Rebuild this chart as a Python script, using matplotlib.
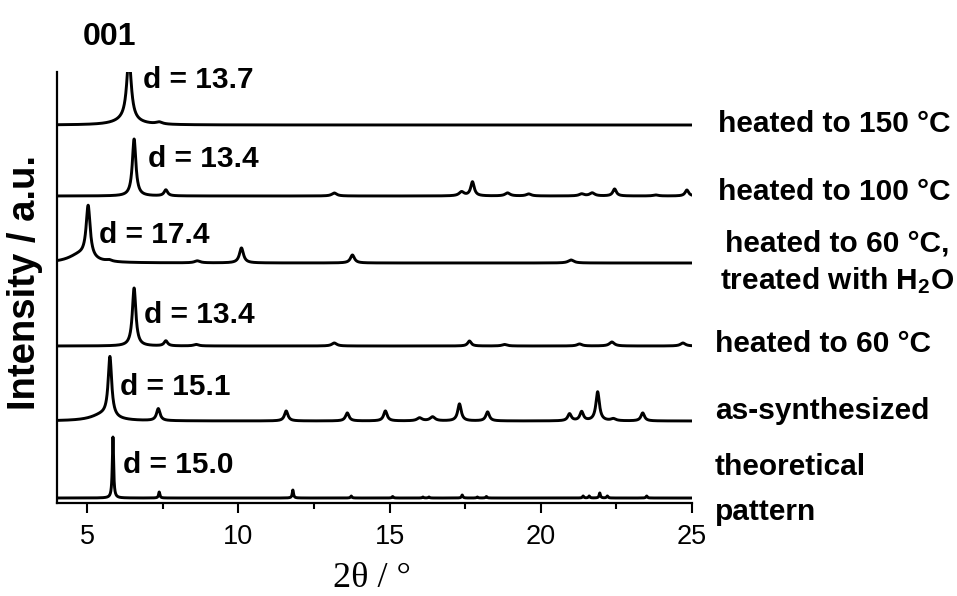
import numpy as np
import matplotlib
matplotlib.use('Agg')
import matplotlib.pyplot as plt

plt.rcParams['font.family'] = ['Liberation Sans', 'DejaVu Sans']
plt.rcParams['mathtext.default'] = 'regular'

# Pattern labels (bottom to top), one list entry per text line
labels = [['theoretical', 'pattern'], ['as-synthesized'], ['heated to 60 °C'],
          ['heated to 60 °C,', 'treated with H$_2$O'], ['heated to 100 °C'],
          ['heated to 150 °C']]
# vertical offsets of each baseline
offsets = [5, 82, 157, 240, 307, 378]
d_labels = ['d = 15.0', 'd = 15.1', 'd = 13.4', 'd = 17.4', 'd = 13.4', 'd = 13.7']

# Peak positions (2theta) and heights
theo_pos = [5.85, 7.38, 11.8, 13.73, 15.1, 16.1, 16.3, 17.4, 17.9, 18.2,
            21.4, 21.6, 21.95, 22.2, 23.5]
theo_h = [61, 6, 8, 2, 1.5, 1, 1, 3, 1, 1.5, 2, 2, 5, 2, 2]

synth_pos = [5.5, 5.75, 7.35, 11.58, 13.6, 14.86, 15.99, 16.42, 17.31, 18.24,
             20.95, 21.35, 21.88, 22.4, 23.37]
synth_h = [6, 60, 12, 10, 8, 10, 3, 4, 17, 9, 7, 9, 29, 2, 8]

h60_pos = [6.55, 7.6, 8.6, 13.17, 17.64, 18.8, 21.28, 22.35, 24.7]
h60_h = [58, 5, 1.5, 3, 5, 1.5, 2, 4, 3]

water_pos = [4.75, 5.03, 5.72, 8.64, 10.1, 13.77, 21.0]
water_h = [8, 52, 1.5, 2, 15, 8, 3]

h100_pos = [6.55, 7.6, 13.17, 17.38, 17.74, 18.9, 19.6, 21.35, 21.7, 22.44,
            23.8, 24.83]
h100_h = [57, 6, 3, 4, 14, 3, 2, 2, 3, 7, 1, 6]

h150_pos = [6.3, 6.38, 7.38]
h150_h = [5, 63, 2]

peak_sets = [(theo_pos, theo_h), (synth_pos, synth_h), (h60_pos, h60_h),
             (water_pos, water_h), (h100_pos, h100_h), (h150_pos, h150_h)]
widths = [0.05, 0.14, 0.14, 0.16, 0.14, 0.18]


def pattern(x, pos, heights, w):
    # sum of Lorentzian profiles; small and shoulder peaks a bit broader
    y = np.zeros_like(x)
    for c, h in zip(pos, heights):
        ww = w if h > 4 or w < 0.1 else w * 1.4
        if c in (5.5, 4.75, 6.3):
            ww = 0.9
        y += h / (1 + ((x - c) / (ww / 2)) ** 2)
    return y


fig = plt.figure(figsize=(9.57, 5.96), dpi=100)
W, H = 957, 596
ax = fig.add_axes([57 / W, 93 / H, (692 - 57) / W, (503 - 72) / H])

x = np.linspace(4, 25, 4200)
for (pos, hts), off, w in zip(peak_sets, offsets, widths):
    ax.plot(x, off + pattern(x, pos, hts, w), color='black', lw=2.1)

ax.set_xlim(4, 25)
ax.set_ylim(0, 431)
ax.set_xticks([5, 10, 15, 20, 25])
ax.set_xticks([7.5, 12.5, 17.5, 22.5], minor=True)
ax.set_yticks([])
ax.tick_params(axis='x', which='major', direction='out', length=7, width=1.5,
               labelsize=19.5, pad=8)
ax.tick_params(axis='x', which='minor', direction='out', length=4.5, width=1.5)
for s in ['top', 'right']:
    ax.spines[s].set_visible(False)
for s in ['left', 'bottom']:
    ax.spines[s].set_linewidth(1.6)

# d-spacing labels next to the 001 reflections
d_xy = [(6.18, 30), (6.08, 108), (6.88, 180), (5.39, 260), (7.01, 336), (6.84, 415)]
for txt, (tx, ty) in zip(d_labels, d_xy):
    ax.text(tx, ty, txt, fontsize=21.5, fontweight='bold', va='baseline')
ax.text(4.86, 458, '001', fontsize=23, fontweight='bold', va='baseline',
        clip_on=False)

# pattern names at the right (pixel x, baseline of each line)
name_x = [715, 715, 715, 837, 718, 718]
name_base = [[475, 520], [419], [352], [252, 289], [200], [132]]
for i, (lines, px, bases) in enumerate(zip(labels, name_x, name_base)):
    for txt, py in zip(lines, bases):
        fig.text(px / W, 1 - py / H, txt, fontsize=21.5, fontweight='bold',
                 ha='center' if i == 3 else 'left', va='baseline')

fig.text(25 / W, 1 - 282 / H, 'Intensity / a.u.', fontsize=27.5,
         fontweight='bold', rotation=90, ha='center', va='center')
fig.text(372 / W, 1 - 587 / H, '2θ / °', fontsize=26, family='Liberation Serif',
         ha='center', va='baseline')

fig.savefig('out.png', dpi=100)
